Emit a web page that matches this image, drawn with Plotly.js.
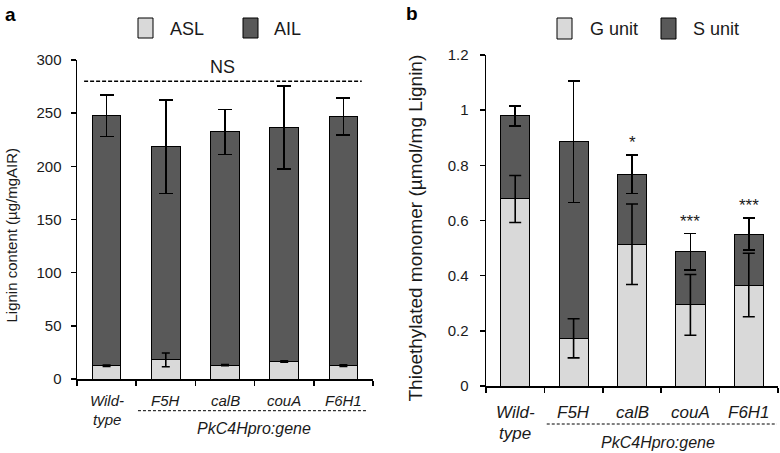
<!DOCTYPE html>
<html>
<head>
<meta charset="utf-8">
<script src="https://cdn.plot.ly/plotly-3.0.1.min.js"></script>
<style>html,body{margin:0;padding:0;background:#fff;}#chart{width:780px;height:453px;}</style>
</head>
<body>
<div id="chart"></div>
<script>
// ---- data ----
const categories = ['Wild-type', 'F5H', 'calB', 'couA', 'F6H1'];
// panel a: lignin content (µg/mgAIR)
const aslValues = [12.5, 18, 13, 16.5, 12.5];
const aslErrors = [0.6, 6.5, 0.6, 0.7, 0.8];
const ailValues = [235, 200.5, 219.3, 219.9, 234.2];
const totalErrorsA = [19.5, 44, 21, 39, 17.5];
// panel b: thioethylated monomers (µmol/mg Lignin)
const gValues = [0.678, 0.173, 0.514, 0.294, 0.366];
const gErrors = [0.085, 0.071, 0.146, 0.110, 0.115];
const sValues = [0.301, 0.713, 0.254, 0.193, 0.184];
const totalErrorsB = [0.036, 0.220, 0.070, 0.066, 0.058];
const significanceB = ['', '', '*', '***', '***'];
const seriesNamesA = ['ASL', 'AIL'];
const seriesNamesB = ['G unit', 'S unit'];
const groupLabel = 'PkC4Hpro:gene';
const nsLabel = 'NS';
const nsLevel = 280;
const yTitleA = 'Lignin content (µg/mgAIR)';
const yTitleB = 'Thioethylated monomer (µmol/mg Lignin)';

// ---- styles ----
const LIGHT = '#d9d9d9', DARK = '#595959', INK = '#1a1a1a';
const FONT = 'Liberation Sans, Arial, sans-serif';
const W = 780, H = 453;
const px = x => x / W, py = y => 1 - y / H;

const line = {color: '#000', width: 1};

const totalsB = gValues.map((v, i) => v + sValues[i]);

const traces = [
  {type: 'bar', x: categories, y: aslValues, name: seriesNamesA[0], xaxis: 'x', yaxis: 'y',
   width: 0.48, marker: {color: LIGHT, line: line}, hoverinfo: 'skip'},
  {type: 'bar', x: categories, y: ailValues, name: seriesNamesA[1], xaxis: 'x', yaxis: 'y',
   width: 0.48, marker: {color: DARK, line: line}, hoverinfo: 'skip',
   error_y: {type: 'data', array: totalErrorsA, visible: true, color: '#000', thickness: 1.6, width: 7}},
  {type: 'scatter', mode: 'markers', x: categories, y: aslValues, xaxis: 'x', yaxis: 'y',
   marker: {size: 1, color: 'rgba(0,0,0,0)'}, hoverinfo: 'skip', showlegend: false,
   error_y: {type: 'data', array: aslErrors, visible: true, color: '#000', thickness: 1.6, width: 4}},
  {type: 'bar', x: categories, y: gValues, name: seriesNamesB[0], xaxis: 'x2', yaxis: 'y2',
   width: 0.5, marker: {color: LIGHT, line: line}, hoverinfo: 'skip'},
  {type: 'bar', x: categories, y: sValues, name: seriesNamesB[1], xaxis: 'x2', yaxis: 'y2',
   width: 0.5, marker: {color: DARK, line: line}, hoverinfo: 'skip',
   error_y: {type: 'data', array: totalErrorsB, visible: true, color: '#000', thickness: 1.6, width: 6}},
  {type: 'scatter', mode: 'markers', x: categories, y: gValues, xaxis: 'x2', yaxis: 'y2',
   marker: {size: 1, color: 'rgba(0,0,0,0)'}, hoverinfo: 'skip', showlegend: false,
   error_y: {type: 'data', array: gErrors, visible: true, color: '#000', thickness: 1.6, width: 6}}
];

function xAxis(domain, anchor) {
  return {domain: domain, anchor: anchor, type: 'category', range: [-0.5, 4.5],
    categoryorder: 'array', categoryarray: categories, tickson: 'boundaries',
    ticks: 'outside', ticklen: 5, tickwidth: 1.5, tickcolor: '#000', showticklabels: false,
    showline: true, linecolor: '#000', linewidth: 1.5, showgrid: false, zeroline: false,
    fixedrange: true};
}
function yAxis(domain, anchor, range, dtick, size, standoff) {
  return {domain: domain, anchor: anchor, range: range, dtick: dtick,
    ticks: 'outside', ticklen: 5, tickwidth: 1.5, tickcolor: '#000',
    showline: true, linecolor: '#000', linewidth: 1.5, showgrid: false, zeroline: false,
    ticklabelstandoff: standoff,
    tickfont: {family: FONT, size: size, color: INK}, fixedrange: true};
}

const shapes = [
  // NS dashed line (panel a)
  {type: 'line', xref: 'x', yref: 'y', x0: -0.38, x1: 4.31, y0: nsLevel, y1: nsLevel,
   line: {color: '#000', width: 1.5, dash: '4px,2px'}},
  // group label underline
  {type: 'line', xref: 'x', yref: 'paper', x0: 0.53, x1: 4.4, y0: py(410.7), y1: py(410.7),
   line: {color: '#000', width: 1, dash: '3px,2px'}},
  {type: 'line', xref: 'x2', yref: 'paper', x0: 0.54, x1: 4.48, y0: py(424), y1: py(424),
   line: {color: '#000', width: 1, dash: '3px,2px'}},
  // legend boxes
  {type: 'rect', xref: 'paper', yref: 'paper', x0: px(138), x1: px(153), y0: py(38), y1: py(18),
   fillcolor: LIGHT, line: {color: '#000', width: 1}},
  {type: 'rect', xref: 'paper', yref: 'paper', x0: px(243), x1: px(258), y0: py(38), y1: py(18),
   fillcolor: DARK, line: {color: '#000', width: 1}},
  {type: 'rect', xref: 'paper', yref: 'paper', x0: px(557), x1: px(572), y0: py(39), y1: py(18),
   fillcolor: LIGHT, line: {color: '#000', width: 1}},
  {type: 'rect', xref: 'paper', yref: 'paper', x0: px(661), x1: px(676), y0: py(39), y1: py(18),
   fillcolor: DARK, line: {color: '#000', width: 1}}
];

const ann = (o) => Object.assign({showarrow: false, xanchor: 'center', yanchor: 'middle'}, o);
const annotations = [
  ann({text: '<b>a</b>', xref: 'paper', yref: 'paper', x: px(10), y: py(14), font: {family: FONT, size: 19, color: '#000'}}),
  ann({text: '<b>b</b>', xref: 'paper', yref: 'paper', x: px(412), y: py(13), font: {family: FONT, size: 19, color: '#000'}}),
  ann({text: seriesNamesA[0], xref: 'paper', yref: 'paper', x: px(168), y: py(29), xanchor: 'left', font: {family: FONT, size: 18, color: INK}}),
  ann({text: seriesNamesA[1], xref: 'paper', yref: 'paper', x: px(272), y: py(29), xanchor: 'left', font: {family: FONT, size: 18, color: INK}}),
  ann({text: seriesNamesB[0], xref: 'paper', yref: 'paper', x: px(588), y: py(29), xanchor: 'left', font: {family: FONT, size: 18, color: INK}}),
  ann({text: seriesNamesB[1], xref: 'paper', yref: 'paper', x: px(691), y: py(29), xanchor: 'left', font: {family: FONT, size: 18, color: INK}}),
  ann({text: yTitleA, xref: 'paper', yref: 'paper', x: px(11), y: py(235.5), textangle: -90, font: {family: FONT, size: 15, color: INK}}),
  ann({text: yTitleB, xref: 'paper', yref: 'paper', x: px(415), y: py(228.5), textangle: -90, font: {family: FONT, size: 19, color: INK}}),
  ann({text: nsLabel, xref: 'x', yref: 'y', x: 1.95, y: 293, font: {family: FONT, size: 18, color: INK}}),
  ann({text: groupLabel, xref: 'x', yref: 'paper', x: 2.49, y: py(428), font: {family: FONT, size: 16, color: INK, style: 'italic'}}),
  ann({text: groupLabel, xref: 'x2', yref: 'paper', x: 2.45, y: py(442), font: {family: FONT, size: 16, color: INK, style: 'italic'}})
];
// category labels (italic, hyphenated names wrap after the hyphen)
[['x', 400, 19, 15], ['x2', 412.5, 20.5, 17]].forEach(([xr, y0, dy, size]) => {
  categories.forEach((c, i) => {
    const parts = c.includes('-') ? [c.slice(0, c.indexOf('-') + 1), c.slice(c.indexOf('-') + 1)] : [c];
    parts.forEach((p, k) => annotations.push(ann({text: p, xref: xr, yref: 'paper', x: i, y: py(y0 + k * dy),
      font: {family: FONT, size: size, color: INK, style: 'italic'}})));
  });
});
significanceB.forEach((s, i) => {
  if (!s) return;
  annotations.push(ann({text: s, xref: 'x2', yref: 'y2', x: i, y: totalsB[i] + totalErrorsB[i] + 0.045,
    font: {family: FONT, size: 17, color: INK}}));
});

const layout = {
  width: W, height: H, margin: {l: 0, r: 0, t: 0, b: 0},
  paper_bgcolor: '#fff', plot_bgcolor: '#fff', showlegend: false, barmode: 'stack',
  xaxis: xAxis([px(77), px(373)], 'y'),
  yaxis: yAxis([1 - 379 / H, 1 - 60 / H], 'x', [0, 300], 50, 15, 6),
  xaxis2: xAxis([px(486), px(778)], 'y2'),
  yaxis2: yAxis([1 - 386 / H, 1 - 55 / H], 'x2', [0, 1.2], 0.2, 15, 8),
  shapes: shapes, annotations: annotations
};

Plotly.newPlot('chart', traces, layout, {staticPlot: true, displayModeBar: false});
</script>
</body>
</html>
